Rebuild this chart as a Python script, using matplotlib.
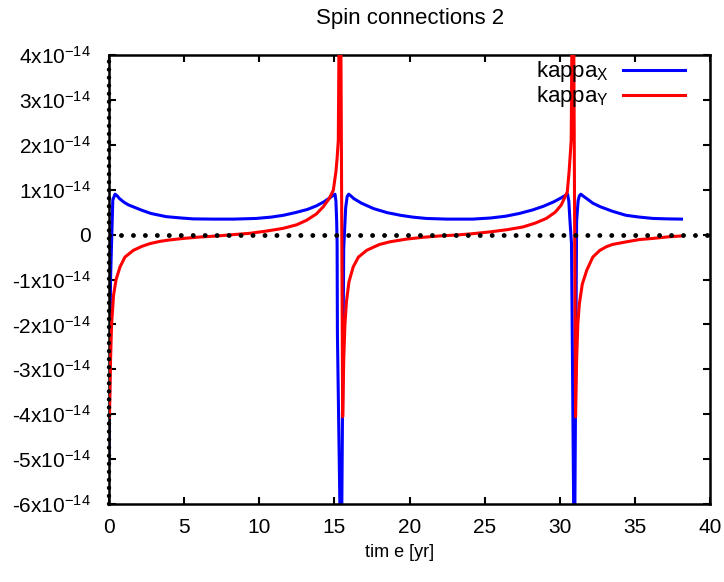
import matplotlib
matplotlib.use("Agg")
import matplotlib.pyplot as plt
import numpy as np

plt.rcParams['font.family'] = 'Liberation Sans'
plt.rcParams['mathtext.fontset'] = 'custom'
plt.rcParams['mathtext.rm'] = 'Liberation Sans'
plt.rcParams['mathtext.it'] = 'Liberation Sans'
plt.rcParams['font.size'] = 15

SCALE = 1e-14  # values below are in units of 1e-14

# kappa_X (blue)
kx_t = [0.0, 0.1, 0.25, 0.4, 0.55, 0.7, 1.0, 1.3, 1.6, 2.2, 2.8, 3.8, 4.8, 5.6, 7.0, 8.3,
        9.8, 10.8, 11.6, 12.4, 13.2, 13.8, 14.3, 14.7, 14.9, 15.04, 15.1, 15.15, 15.18, 15.2,
        15.45, 15.62, 15.75, 15.85, 15.95, 16.1, 16.3, 16.8, 17.6, 18.5, 19.4, 20.2, 21.1, 22.5,
        24.2, 25.4, 26.4, 27.3, 28.2, 28.9, 29.6, 30.1, 30.35, 30.52, 30.6, 30.68, 30.78, 30.83,
        30.97, 31.12, 31.22, 31.3, 31.4, 31.55, 31.8, 32.2, 32.7, 33.5, 34.4, 35.3, 36.2, 37.2, 38.1]
kx_v = [-5.0, -1.0, 0.77, 0.9, 0.86, 0.8, 0.72, 0.66, 0.62, 0.54, 0.47, 0.40, 0.37, 0.35, 0.345, 0.345,
        0.36, 0.39, 0.43, 0.49, 0.56, 0.64, 0.73, 0.82, 0.87, 0.9, 0.75, 0.3, -0.2, -2.2,
        -8.0, -0.3, 0.6, 0.85, 0.9, 0.86, 0.8, 0.7, 0.58, 0.49, 0.43, 0.39, 0.36, 0.345,
        0.345, 0.37, 0.41, 0.47, 0.55, 0.63, 0.73, 0.82, 0.87, 0.9, 0.75, 0.3, -0.2, -2.2,
        -8.0, 0.3, 0.75, 0.86, 0.9, 0.86, 0.8, 0.7, 0.62, 0.52, 0.43, 0.39, 0.36, 0.35, 0.345]

# kappa_Y (red)
ky_t = [0.03, 0.1, 0.17, 0.3, 0.47, 0.73, 1.06, 1.62, 2.2, 2.73, 3.4, 4.0, 4.95, 6.0, 7.2, 8.3,
        9.4, 10.5, 11.6, 12.5, 13.15, 13.8, 14.26, 14.65, 14.93, 15.1, 15.18, 15.26, 15.38,
        15.55, 15.62, 15.7, 15.8, 15.97, 16.25, 16.6, 17.15, 17.6, 18.0, 18.7, 19.8, 20.9, 22.0,
        23.1, 24.2, 25.35, 26.5, 27.55, 28.4, 29.1, 29.7, 30.1, 30.5, 30.62, 30.68, 30.76, 30.88,
        31.05, 31.12, 31.2, 31.3, 31.5, 31.8, 32.2, 32.67, 33.1, 33.5, 34.45, 35.3, 36.2, 37.2, 38.1]
ky_v = [-4.06, -2.8, -2.0, -1.35, -1.0, -0.72, -0.5, -0.35, -0.26, -0.2, -0.15, -0.12, -0.085, -0.055, -0.03, 0.0,
        0.03, 0.08, 0.14, 0.22, 0.32, 0.46, 0.62, 0.8, 0.99, 1.4, 1.7, 2.1, 8.0,
        -4.06, -2.8, -2.0, -1.5, -1.05, -0.72, -0.5, -0.35, -0.28, -0.22, -0.16, -0.1, -0.06, -0.03,
        -0.01, 0.02, 0.06, 0.11, 0.17, 0.26, 0.36, 0.5, 0.66, 0.95, 1.4, 1.7, 2.1, 8.0,
        -4.06, -2.8, -2.0, -1.55, -1.1, -0.79, -0.5, -0.35, -0.27, -0.22, -0.16, -0.11, -0.085, -0.05, -0.03]

y_ticks = [-6, -5, -4, -3, -2, -1, 0, 1, 2, 3, 4]
y_ticklabels = ['0' if v == 0 else r'%dx10$^{-14}$' % v for v in y_ticks]
x_ticks = [0, 5, 10, 15, 20, 25, 30, 35, 40]

fig = plt.figure(figsize=(7.24, 5.82), dpi=100)
ax = fig.add_axes([0.1506, 0.134, 0.8301, 0.7715])

ax.plot(kx_t, np.array(kx_v) * SCALE, color='#0000ff', lw=2.2, label=r'kappa$_{\mathrm{X}}$', zorder=2)
ax.plot(ky_t, np.array(ky_v) * SCALE, color='#ff0000', lw=2.2, label=r'kappa$_{\mathrm{Y}}$', zorder=3)

# zero lines (dotted)
ax.plot([0, 40], [0, 0], color='black', lw=3.5, linestyle=(0, (0.01, 2.45)),
        dash_capstyle='round', zorder=4)
ax.plot([0, 0], [-6 * SCALE, 4 * SCALE], color='black', lw=3.2, linestyle=(0, (0.01, 1.8)),
        dash_capstyle='round', zorder=4, clip_on=False)

ax.set_xlim(0, 40)
ax.set_ylim(-6 * SCALE, 4 * SCALE)
ax.set_xticks(x_ticks)
ax.set_yticks([v * SCALE for v in y_ticks])
ax.set_yticklabels(y_ticklabels)
ax.tick_params(direction='in', which='both', top=True, right=True, length=5, width=1.5)
ax.tick_params(axis='x', pad=10)
ax.tick_params(axis='y', pad=13)
for s in ax.spines.values():
    s.set_linewidth(1.8)

fig.text(0.567, 0.969, 'Spin connections 2', ha='center', va='center', fontsize=16)
fig.text(0.552, 0.05, 'tim e [yr]', ha='center', va='center', fontsize=13)

ax.legend(loc='upper right', bbox_to_anchor=(0.958, 0.99), frameon=False,
          markerfirst=False, handlelength=2.8, borderpad=0, borderaxespad=0,
          labelspacing=0.0, handletextpad=0.6, fontsize=16)

plt.savefig('out.png', dpi=100)
